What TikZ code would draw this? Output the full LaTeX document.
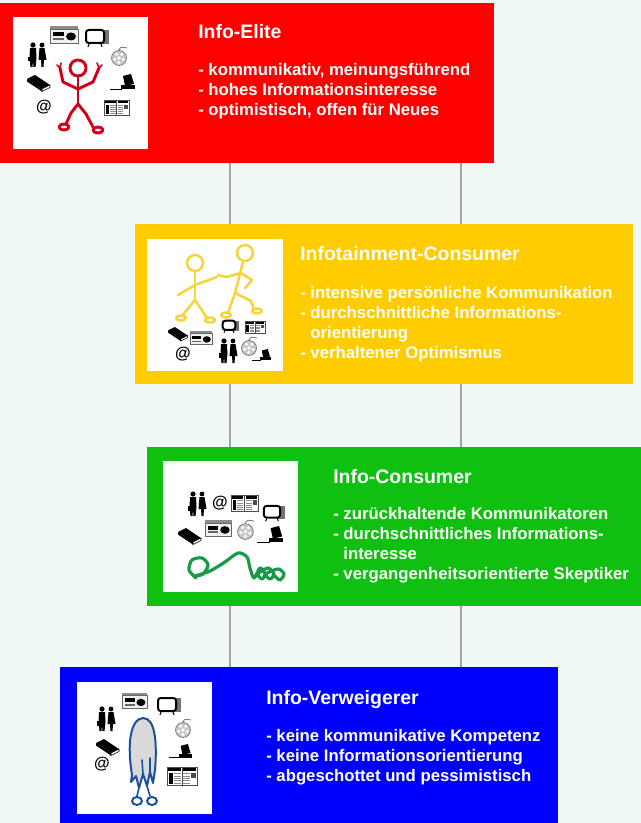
\documentclass[tikz,border=0pt]{standalone}
\usepackage{fontspec}
\setmainfont{Liberation Sans}
\usetikzlibrary{fit}
\definecolor{eliteRed}{HTML}{FF0000}
\definecolor{tainYellow}{HTML}{FFCC00}
\definecolor{consGreen}{HTML}{10C010}
\definecolor{refuseBlue}{HTML}{0000FF}
\definecolor{paleMint}{HTML}{F0F8F5}
\definecolor{railGray}{HTML}{A0A5A5}
\definecolor{figRed}{HTML}{D0001E}
\definecolor{figYellow}{HTML}{F6D43E}
\definecolor{ropeGreen}{HTML}{1A9A48}
\definecolor{ghostBlue}{HTML}{1D4F9A}

% media icons, in pixel units from their top left corner
\tikzset{
  radio/.pic={
    \fill[black!45] (0,0) rectangle (28,3);
    \filldraw[draw=black!60, fill=black!6, line width=0.4pt] (0,3) rectangle (28,17);
    \fill (3,6) rectangle (14,10);
    \fill[black!60] (3,12) rectangle (14,14);
    \fill (21,10.5) ellipse (5 and 4);
  },
  tv/.pic={
    \fill[black!55] (16,1) rectangle (24,15);
    \filldraw[line width=1.5pt, fill=white, rounded corners=2pt] (1,1) rectangle (19,14);
    \draw[line width=0.8pt] (4,15) -- (3,18) (16,15) -- (17,18);
  },
  reel/.pic={
    \draw[black!50, line width=0.7pt] (10,5) .. controls (7,1) and (12,-1) .. (17,1);
    \filldraw[draw=black!55, fill=black!22, line width=0.5pt] (9,11) circle (7.5);
    \fill[white] (9,11) circle (1.8);
    \foreach \a in {20,92,...,308}
      \fill[white] (9,11) ++(\a:4.5) circle (1.7);
  },
  book/.pic={
    \fill (0,4) -- (8,0) -- (23,10) -- (15,14) -- cycle;
    \filldraw[fill=white, line width=0.4pt] (15,14) -- (23,10) -- (23,12.5) -- (15,16.5) -- cycle;
    \fill (0,4) -- (15,14) -- (15,16.5) -- (0,6.5) -- cycle;
  },
  pc/.pic={
    \fill (13,2) -- (21,0) -- (24,10) -- (15,12) -- cycle;
    \fill (11,11) rectangle (25,15);
    \draw[line width=0.8pt] (0,15.5) -- (12,15.5);
  },
  paper/.pic={
    \filldraw[draw=black!70, fill=white, line width=0.4pt] (0,0) rectangle (25,15);
    \draw[black!70, line width=0.4pt] (12.5,0) -- (12.5,15);
    \fill (1,1) rectangle (11.5,3.5);
    \fill (13.5,1) rectangle (24,3.5);
    \foreach \yy in {5.5,7.5,...,13.5}
      \draw[black!45, line width=0.7pt] (6,\yy) -- (11.5,\yy) (13.5,\yy) -- (19,\yy);
    \fill (1.5,5) rectangle (5,14);
    \fill[black!70] (20,5) rectangle (24,9);
  },
  couple/.pic={
    % man with briefcase
    \fill (5,3) circle (2.6);
    \fill (2,6) -- (8,6) -- (8.5,16) -- (7.5,25) -- (5.5,25) -- (5,18)
      -- (4.5,25) -- (2.5,25) -- (1.5,16) -- cycle;
    \fill (-0.5,15) rectangle (2.5,19.5);
    % woman
    \fill (14,3) circle (2.4);
    \fill (11.5,6) -- (16.5,6) -- (18.5,18) -- (16,18) -- (15.5,25)
      -- (13.5,25) -- (13,18) -- (10.5,18) -- cycle;
  }
}

\begin{document}
\begin{tikzpicture}[
  x=0.75pt, y=-0.75pt,
  tier/.style={inner sep=0pt, outer sep=0pt},
  panel/.style={fill=white, inner sep=0pt, outer sep=0pt},
  heading/.style={text=white, anchor=base west, inner sep=0pt,
    font=\fontsize{14.6pt}{17pt}\selectfont\bfseries},
  % placed at the baseline of the last line
  facts/.style={text=white, anchor=base west, inner sep=0pt, align=left,
    font=\fontsize{12.55pt}{15pt}\selectfont\bfseries},
  atsign/.style={inner sep=0pt, font=\fontsize{12pt}{14pt}\selectfont\bfseries},
  rail/.style={draw=railGray, line width=1pt},
  stick/.style={line width=2.2pt, line cap=round, line join=round},
  softstick/.style={line width=1.9pt, line cap=round, line join=round, draw=figYellow}
]
\fill[paleMint] (0,0) rectangle (641,823);
\useasboundingbox (0,0) rectangle (641,823);

% the four user types
\node[tier, fill=eliteRed, fit={(0,3) (494,163)}] (elite) {};
\node[tier, fill=tainYellow, fit={(135,224) (633,384)}] (tainment) {};
\node[tier, fill=consGreen, fit={(147,447) (641,606)}] (consumer) {};
\node[tier, fill=refuseBlue, fit={(60,667) (558,823)}] (refuser) {};

\coordinate (leftrail) at (230,0);
\coordinate (rightrail) at (461,0);
\draw[rail] (elite.south -| leftrail) -- (tainment.north -| leftrail);
\draw[rail] (elite.south -| rightrail) -- (tainment.north -| rightrail);
\draw[rail] (tainment.south -| leftrail) -- (consumer.north -| leftrail);
\draw[rail] (tainment.south -| rightrail) -- (consumer.north -| rightrail);
\draw[rail] (consumer.south -| leftrail) -- (refuser.north -| leftrail);
\draw[rail] (consumer.south -| rightrail) -- (refuser.north -| rightrail);

\node[heading] (eliteTitle) at (198,39) {Info-Elite};
\node[facts] (eliteText) at (198,116) {- kommunikativ, meinungsführend\\
  - hohes Informationsinteresse\\- optimistisch, offen für Neues};

\node[heading] (tainTitle) at (300,261) {Infotainment-Consumer};
\node[facts] (tainText) at (300,358) {- intensive persönliche Kommunikation\\
  - durchschnittliche Informations-\\\phantom{- }orientierung\\
  - verhaltener Optimismus};

\node[heading] (consTitle) at (333,483.5) {Info-Consumer};
\node[facts] (consText) at (333,579.5) {- zurückhaltende Kommunikatoren\\
  - durchschnittliches Informations-\\\phantom{- }interesse\\
  - vergangenheitsorientierte Skeptiker};

\node[heading] (refTitle) at (266,704) {Info-Verweigerer};
\node[facts] (refText) at (266,781) {- keine kommunikative Kompetenz\\
  - keine Informationsorientierung\\- abgeschottet und pessimistisch};

% picture panels
\node[panel, fit={(13,17) (148,149)}] (eliteImg) {};
\node[panel, fit={(147,239) (283,371)}] (tainImg) {};
\node[panel, fit={(163,461) (298,592)}] (consImg) {};
\node[panel, fit={(77,682) (212,814)}] (refImg) {};

% info elite: red figure among the media
\pic at (50,26) {radio};
\pic at (85,29) {tv};
\pic at (28,42) {couple};
\pic at (110,47) {reel};
\pic at (27,75) {book};
\pic at (110,74) {pc};
\pic at (104,100) {paper};
\node[atsign] (eliteAt) at (44,107) {@};
\draw[stick, figRed] (78,68) circle (8);
\draw[stick, figRed] (78,76) -- (78,104);
\draw[stick, figRed] (60,68) -- (63,82) -- (78,89) -- (93,82) -- (99,68);
\draw[stick, figRed] (66,124) -- (71,113) -- (78,104) -- (86,114) -- (93,127);
\draw[stick, figRed] (64,127) ellipse (5 and 3) (98,130) ellipse (5 and 3);
\draw[figRed, line width=1.2pt, line cap=round] (60,68) -- (57,65) (60,68) -- (61,63)
  (99,68) -- (97,63) (99,68) -- (102,65);

% infotainment consumer: two figures shaking hands
\draw[softstick] (195,263) circle (8);
\draw[softstick] (195,271) -- (195,300);
\draw[softstick] (178,295) -- (195,285) -- (217,277);
\draw[softstick] (182,316) -- (195,300) -- (207,318);
\draw[softstick] (181,318) ellipse (5 and 2.5) (210,320) ellipse (5 and 2.5);
\draw[softstick] (245,253) circle (8);
\draw[softstick] (243,262) -- (235,293);
\draw[softstick] (218,275) -- (226,277) -- (241,273) -- (252,280) -- (245,288);
\draw[softstick] (228,313) -- (235,293) -- (251,301) -- (254,309);
\draw[softstick] (226,315) ellipse (5 and 2.5) (257,311) ellipse (5 and 2.5);
\pic[scale=0.85] at (168,327) {book};
\pic[scale=0.8] at (190,331) {radio};
\pic[scale=0.7] at (222,320) {tv};
\pic[scale=0.8] at (245,321) {paper};
\pic at (219,338) {couple};
\pic at (240,337) {reel};
\pic[scale=0.75] at (252,349) {pc};
\node[atsign] (tainAt) at (183,354) {@};

% info consumer: media and a tangled rope
\pic at (188,491) {couple};
\node[atsign] (consAt) at (220,503) {@};
\pic[scale=1.08] at (231,495) {paper};
\pic[scale=0.9] at (263,505) {tv};
\pic at (178,528) {book};
\pic[scale=0.95] at (205,520) {radio};
\pic[scale=1.05] at (236,520) {reel};
\pic[scale=1.05] at (257,526) {pc};
\draw[ropeGreen, line width=2.4pt, line cap=round, line join=round]
  plot[smooth] coordinates {(196,578) (189,570) (192,560) (202,558) (208,565)
  (203,574) (195,576) (210,571) (225,562) (238,553) (247,557) (250,568)
  (254,578) (260,568) (265,574) (262,579) (258,574) (268,568) (274,574)
  (270,579) (266,574) (278,569) (284,574) (280,580) (275,576)};

% info refuser: ghost among the media
\pic[scale=0.9] at (122,693) {radio};
\pic at (157,697) {tv};
\pic at (97,706) {couple};
\pic at (174,719) {reel};
\pic at (96,739) {book};
\pic[scale=0.9] at (169,744) {pc};
\pic[scale=1.2] at (167,767) {paper};
\node[atsign] (refAt) at (102,764) {@};
\filldraw[draw=ghostBlue, fill=black!15, line width=1.5pt, line join=round]
  (132,775) .. controls (127,745) and (130,719) .. (143,718)
  .. controls (156,718) and (157,745) .. (155,770) -- (153,783) -- (150,772)
  -- (147,786) -- (143,774) -- (139,788) -- (136,776) -- (131,782) -- cycle;
\draw[ghostBlue, line width=1.2pt, line cap=round] (142,760) -- (143,774) (150,758) -- (150,772)
  (139,788) -- (137,796) (147,786) -- (150,796);
\draw[ghostBlue, line width=1.5pt] (137,801) ellipse (5 and 4) (152,801) ellipse (5 and 4);
\end{tikzpicture}
\end{document}
